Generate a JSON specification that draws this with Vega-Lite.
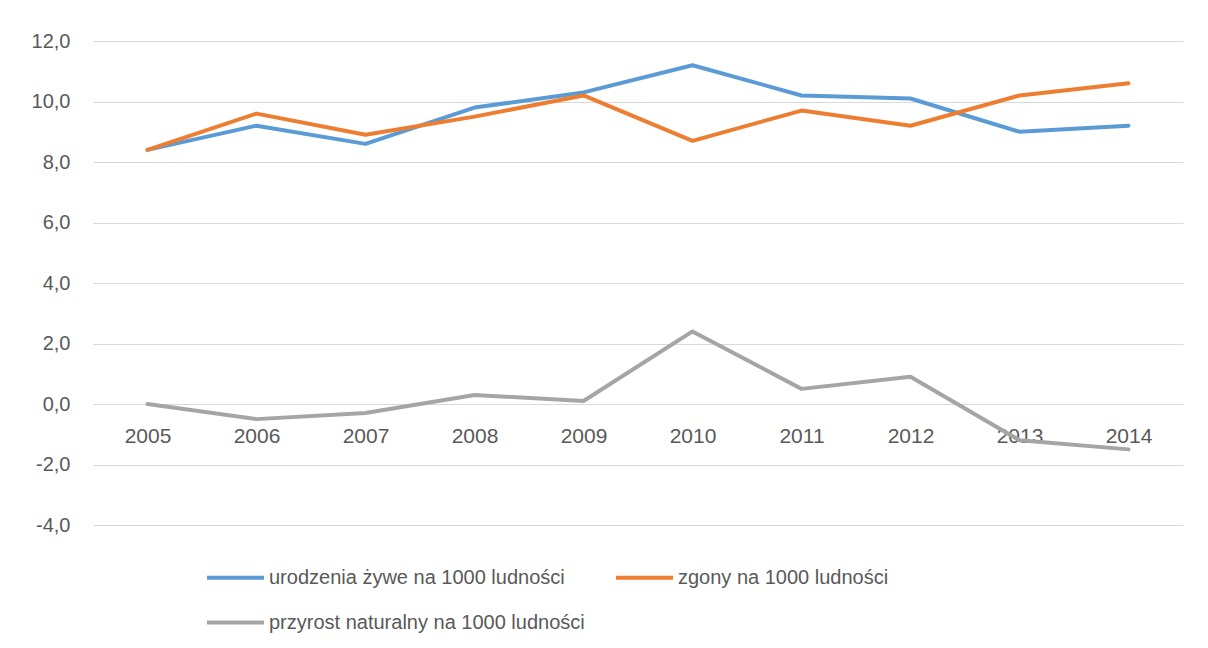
{
  "$schema": "https://vega.github.io/schema/vega-lite/v6.json",
  "autosize": "none",
  "width": 1090,
  "height": 484,
  "padding": {"left": 93, "top": 41, "right": 25, "bottom": 123},
  "background": "white",
  "config": {"view": {"stroke": null}, "font": "Liberation Sans"},
  "data": {
    "values": [
      {"rok": "2005", "seria": "urodzenia żywe na 1000 ludności", "wartosc": 8.4},
      {"rok": "2006", "seria": "urodzenia żywe na 1000 ludności", "wartosc": 9.2},
      {"rok": "2007", "seria": "urodzenia żywe na 1000 ludności", "wartosc": 8.6},
      {"rok": "2008", "seria": "urodzenia żywe na 1000 ludności", "wartosc": 9.8},
      {"rok": "2009", "seria": "urodzenia żywe na 1000 ludności", "wartosc": 10.3},
      {"rok": "2010", "seria": "urodzenia żywe na 1000 ludności", "wartosc": 11.2},
      {"rok": "2011", "seria": "urodzenia żywe na 1000 ludności", "wartosc": 10.2},
      {"rok": "2012", "seria": "urodzenia żywe na 1000 ludności", "wartosc": 10.1},
      {"rok": "2013", "seria": "urodzenia żywe na 1000 ludności", "wartosc": 9.0},
      {"rok": "2014", "seria": "urodzenia żywe na 1000 ludności", "wartosc": 9.2},
      {"rok": "2005", "seria": "zgony na 1000 ludności", "wartosc": 8.4},
      {"rok": "2006", "seria": "zgony na 1000 ludności", "wartosc": 9.6},
      {"rok": "2007", "seria": "zgony na 1000 ludności", "wartosc": 8.9},
      {"rok": "2008", "seria": "zgony na 1000 ludności", "wartosc": 9.5},
      {"rok": "2009", "seria": "zgony na 1000 ludności", "wartosc": 10.2},
      {"rok": "2010", "seria": "zgony na 1000 ludności", "wartosc": 8.7},
      {"rok": "2011", "seria": "zgony na 1000 ludności", "wartosc": 9.7},
      {"rok": "2012", "seria": "zgony na 1000 ludności", "wartosc": 9.2},
      {"rok": "2013", "seria": "zgony na 1000 ludności", "wartosc": 10.2},
      {"rok": "2014", "seria": "zgony na 1000 ludności", "wartosc": 10.6},
      {"rok": "2005", "seria": "przyrost naturalny na 1000 ludności", "wartosc": 0.0},
      {"rok": "2006", "seria": "przyrost naturalny na 1000 ludności", "wartosc": -0.5},
      {"rok": "2007", "seria": "przyrost naturalny na 1000 ludności", "wartosc": -0.3},
      {"rok": "2008", "seria": "przyrost naturalny na 1000 ludności", "wartosc": 0.3},
      {"rok": "2009", "seria": "przyrost naturalny na 1000 ludności", "wartosc": 0.1},
      {"rok": "2010", "seria": "przyrost naturalny na 1000 ludności", "wartosc": 2.4},
      {"rok": "2011", "seria": "przyrost naturalny na 1000 ludności", "wartosc": 0.5},
      {"rok": "2012", "seria": "przyrost naturalny na 1000 ludności", "wartosc": 0.9},
      {"rok": "2013", "seria": "przyrost naturalny na 1000 ludności", "wartosc": -1.2},
      {"rok": "2014", "seria": "przyrost naturalny na 1000 ludności", "wartosc": -1.5}
    ]
  },
  "mark": {"type": "line", "strokeWidth": 4, "strokeCap": "round", "strokeJoin": "round"},
  "encoding": {
    "x": {
      "field": "rok",
      "type": "nominal",
      "sort": null,
      "scale": {"type": "point", "padding": 0.5},
      "axis": {
        "title": null,
        "orient": "bottom",
        "offset": -121,
        "domain": false,
        "ticks": false,
        "grid": false,
        "labelAngle": 0,
        "labelPadding": 21,
        "labelFontSize": 21,
        "labelColor": "#595959",
        "labelFont": "Liberation Sans"
      }
    },
    "y": {
      "field": "wartosc",
      "type": "quantitative",
      "scale": {"domain": [-4, 12], "nice": false, "zero": false},
      "axis": {
        "title": null,
        "values": [-4, -2, 0, 2, 4, 6, 8, 10, 12],
        "domain": false,
        "ticks": false,
        "grid": true,
        "gridColor": "#d9d9d9",
        "gridWidth": 1,
        "labelPadding": 23,
        "labelFontSize": 20,
        "labelColor": "#595959",
        "labelFont": "Liberation Sans",
        "labelExpr": "replace(replace(format(datum.value, '.1f'), '.', ','), '−', '-')"
      }
    },
    "color": {
      "field": "seria",
      "type": "nominal",
      "scale": {
        "domain": ["urodzenia żywe na 1000 ludności", "zgony na 1000 ludności", "przyrost naturalny na 1000 ludności"],
        "range": ["#5b9bd5", "#ed7d31", "#a5a5a5"]
      },
      "legend": {
        "title": null,
        "orient": "none",
        "legendX": 112,
        "legendY": 506,
        "direction": "horizontal",
        "columns": 2,
        "gridAlign": "each",
        "columnPadding": 23,
        "rowPadding": 4,
        "symbolType": "stroke",
        "symbolSize": 3249,
        "symbolStrokeWidth": 4,
        "labelFontSize": 20,
        "labelColor": "#595959",
        "labelFont": "Liberation Sans",
        "labelOffset": 3,
        "labelLimit": 0
      }
    }
  }
}
